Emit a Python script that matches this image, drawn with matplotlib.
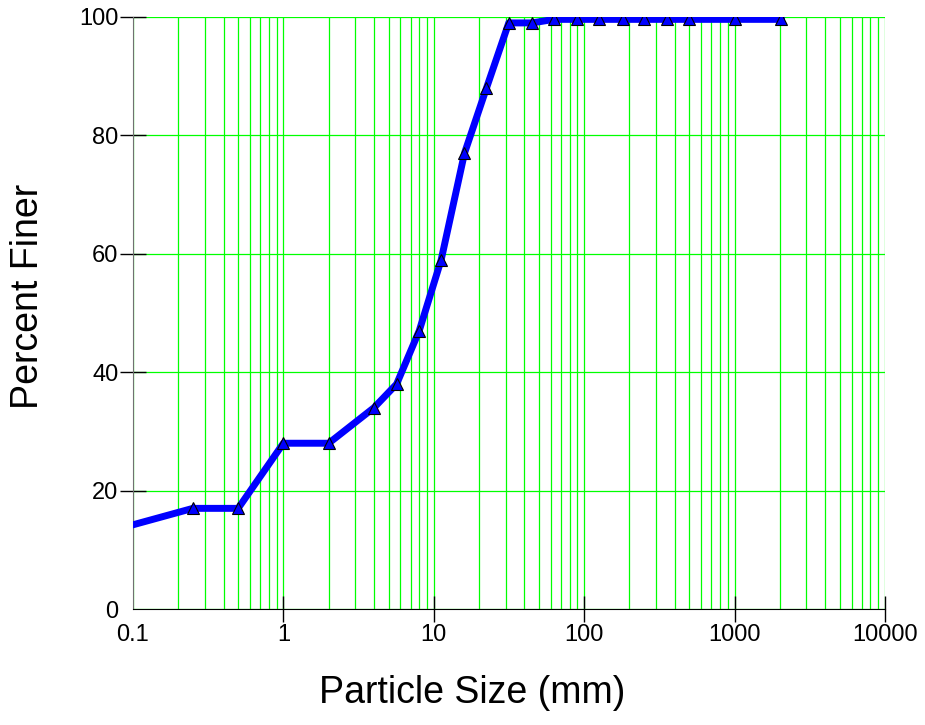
import matplotlib
matplotlib.use("Agg")
import matplotlib.pyplot as plt
from matplotlib.ticker import FixedLocator, FixedFormatter, LogLocator, NullFormatter

plt.rcParams['font.family'] = ['Liberation Sans', 'DejaVu Sans']

# Grain size distribution (sieve sizes in mm, cumulative percent passing)
sizes_mm = [0.0625, 0.25, 0.5, 1, 2, 4, 5.66, 8, 11.2, 16, 22.4, 31.5, 45,
            63, 90, 125, 180, 250, 355, 500, 1000, 2048]
percent_finer = [12.8, 17, 17, 28, 28, 34, 38, 47, 59, 77, 88, 99, 99,
                 99.6, 99.6, 99.6, 99.6, 99.6, 99.6, 99.6, 99.6, 99.6]

x_ticks = [0.1, 1, 10, 100, 1000, 10000]
x_tick_labels = ["0.1", "1", "10", "100", "1000", "10000"]
y_ticks = [0, 20, 40, 60, 80, 100]

fig = plt.figure(figsize=(9.25, 7.25), dpi=100)
ax = fig.add_axes([133 / 925, 1 - 609 / 725, 752 / 925, 592 / 725])

ax.plot(sizes_mm, percent_finer, color='#0000ff', lw=5, marker='^',
        markersize=9, markerfacecolor='#0000ff', markeredgecolor='black',
        markeredgewidth=0.8, zorder=3)

ax.set_xscale('log')
ax.set_xlim(0.1, 10000)
ax.set_ylim(0, 100)

ax.xaxis.set_major_locator(FixedLocator(x_ticks))
ax.xaxis.set_major_formatter(FixedFormatter(x_tick_labels))
ax.xaxis.set_minor_locator(LogLocator(base=10, subs=range(2, 10)))
ax.xaxis.set_minor_formatter(NullFormatter())
ax.set_yticks(y_ticks)

grid_color = '#00ff00'
ax.grid(True, which='major', axis='both', color=grid_color, lw=0.9, zorder=1)
ax.grid(True, which='minor', axis='x', color=grid_color, lw=0.9, zorder=1)
ax.set_axisbelow(True)

ax.tick_params(axis='both', which='major', direction='inout', length=19,
               width=1, color='black', labelsize=17, pad=1)
ax.tick_params(axis='x', which='minor', length=0)

for side in ('top', 'right'):
    ax.spines[side].set_visible(False)
ax.spines['left'].set_color('#707070')
ax.spines['bottom'].set_color('black')

# no tick marks at the shared corner
ax.xaxis.get_major_ticks()[0].tick1line.set_visible(False)
ax.yaxis.get_major_ticks()[0].tick1line.set_visible(False)

fig.text(472 / 925, 1 - 693 / 725, "Particle Size (mm)", fontsize=27,
         ha='center', va='center')
fig.text(28 / 925, 1 - 296 / 725, "Percent Finer", fontsize=27,
         ha='center', va='center', rotation=90)

fig.savefig("out.png", dpi=100)
